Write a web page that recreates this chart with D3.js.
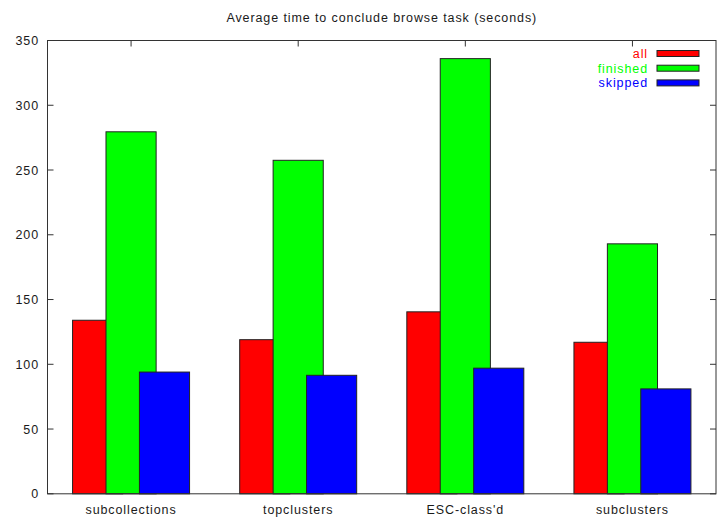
<!DOCTYPE html>
<html>
<head>
<meta charset="utf-8">
<script src="https://cdn.jsdelivr.net/npm/d3@7"></script>
<style>
body { margin: 0; background: #fff; }
text { font-family: "Liberation Sans", Arial, sans-serif; font-size: 12.5px; letter-spacing: 0.9px; fill: #1a1a1a; }
</style>
</head>
<body>
<div id="chart"></div>
<script>
var categories = ['subcollections', 'topclusters', "ESC-class'd", 'subclusters'];
var seriesNames = ['all', 'finished', 'skipped'];
var allTimes = [134, 119, 140.5, 117];
var finishedTimes = [279.5, 257.5, 336, 193];
var skippedTimes = [94, 91.5, 97, 81];
var yTicks = [0, 50, 100, 150, 200, 250, 300, 350];
var colors = ['#ff0000', '#00ff00', '#0000ff'];

var series = [allTimes, finishedTimes, skippedTimes];
var width = 723, height = 517;
var margin = {top: 40.5, right: 7, bottom: 23, left: 47.5};

var svg = d3.select('#chart').append('svg')
    .attr('width', width)
    .attr('height', height);

var x = d3.scaleBand()
    .domain(categories)
    .range([margin.left, width - margin.right])
    .padding(0);

var y = d3.scaleLinear()
    .domain([0, 350])
    .range([height - margin.bottom - 0.2, margin.top]);

var bw = x.bandwidth();
var barWidth = bw * 0.3;
var offset = bw * 0.2;

// bars, drawn series by series so later ones overlap earlier ones
series.forEach(function(vals, s){
    svg.append('g')
        .selectAll('rect')
        .data(vals)
        .enter()
        .append('rect')
        .attr('x', function(d, i){ return x(categories[i]) + bw/2 + (s-1)*offset - barWidth/2; })
        .attr('y', function(d){ return y(d); })
        .attr('width', barWidth)
        .attr('height', function(d){ return y(0) - y(d); })
        .attr('fill', colors[s])
        .attr('stroke', '#222')
        .attr('stroke-width', 1);
});

var x0 = margin.left, x1 = width - margin.right;
var yTop = margin.top, yBot = y(0);

// frame
svg.append('rect')
    .attr('x', x0).attr('y', yTop)
    .attr('width', x1 - x0).attr('height', yBot - yTop)
    .attr('fill', 'none')
    .attr('stroke', '#333')
    .attr('stroke-width', 1);

// y ticks (left + mirrored right, inward)
var tickG = svg.append('g').attr('stroke', '#333').attr('stroke-width', 1);
tickG.selectAll('.yl').data(yTicks).enter().append('line')
    .attr('x1', x0).attr('x2', x0 + 6)
    .attr('y1', function(d){ return y(d); }).attr('y2', function(d){ return y(d); });
tickG.selectAll('.yr').data(yTicks).enter().append('line')
    .attr('x1', x1).attr('x2', x1 - 6)
    .attr('y1', function(d){ return y(d); }).attr('y2', function(d){ return y(d); });
// x ticks (top, inward)
tickG.selectAll('.xt').data(categories).enter().append('line')
    .attr('x1', function(d){ return x(d) + bw/2; }).attr('x2', function(d){ return x(d) + bw/2; })
    .attr('y1', yTop).attr('y2', yTop + 6);

svg.selectAll('.ylab').data(yTicks).enter().append('text')
    .attr('x', 39).attr('y', function(d){ return y(d) + 4.5; })
    .attr('text-anchor', 'end')
    .text(function(d){ return d; });

svg.selectAll('.xlab').data(categories).enter().append('text')
    .attr('x', function(d){ return x(d) + bw/2; })
    .attr('y', 514)
    .attr('text-anchor', 'middle')
    .text(function(d){ return d; });

svg.append('text')
    .attr('x', (x0 + x1)/2).attr('y', 22)
    .attr('text-anchor', 'middle')
    .text('Average time to conclude browse task (seconds)');

// legend
var legend = svg.append('g').selectAll('g')
    .data(seriesNames)
    .enter()
    .append('g')
    .attr('transform', function(d, i){ return 'translate(0,' + (53.5 + i*14.7) + ')'; });

legend.append('text')
    .attr('x', 648).attr('y', 4.5)
    .attr('text-anchor', 'end')
    .style('fill', function(d, i){ return colors[i]; })
    .text(function(d){ return d; });

legend.append('rect')
    .attr('x', 657).attr('y', -3)
    .attr('width', 42).attr('height', 6)
    .attr('fill', function(d, i){ return colors[i]; })
    .attr('stroke', '#222')
    .attr('stroke-width', 1);
</script>
</body>
</html>
